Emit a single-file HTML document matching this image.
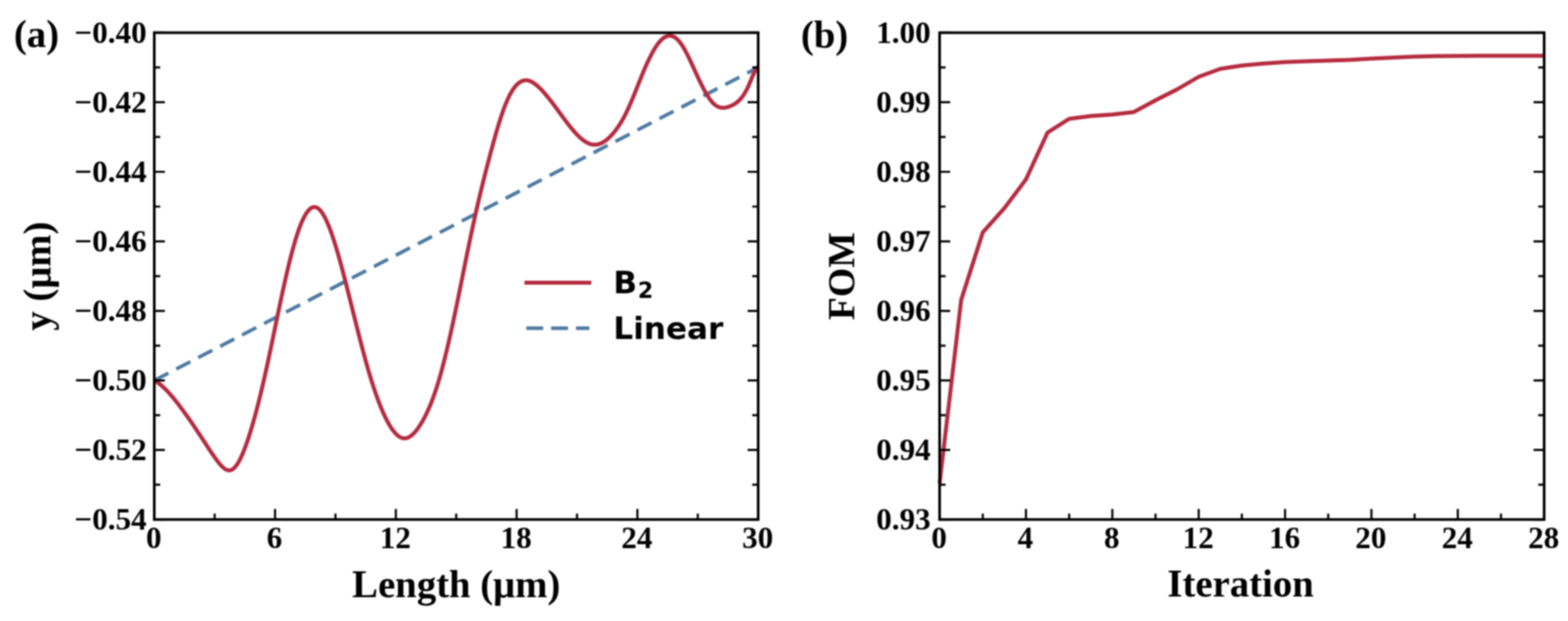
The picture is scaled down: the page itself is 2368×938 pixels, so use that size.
<!DOCTYPE html>
<html><head><meta charset="utf-8"><title>Figure</title>
<style>
html,body{margin:0;padding:0;background:#fff;}
svg{display:block;}
#fig{filter:blur(1px);width:2368px;height:938px;}
.t{font-family:"Liberation Serif", "Times New Roman", serif;font-weight:bold;font-size:47px;fill:#000;}
.l{font-family:"Liberation Serif", "Times New Roman", serif;font-weight:bold;font-size:58.5px;fill:#000;}
.g{font-family:"DejaVu Sans", "Liberation Sans", sans-serif;font-weight:bold;font-size:47px;fill:#000;}
</style></head><body>
<div id="fig"><svg width="2368" height="938" viewBox="0 0 2368 938">
<rect width="2368" height="938" fill="#fff"/>
<path d="M233.0 574.6 L1145.0 101.9" stroke="#4f7ba3" stroke-width="5.4" stroke-dasharray="24 13.36" fill="none"/>
<path d="M233.00 574.00 L233.65 574.45 L234.30 574.91 L234.96 575.37 L235.61 575.83 L236.26 576.31 L236.91 576.79 L237.56 577.27 L238.22 577.76 L238.87 578.26 L239.52 578.77 L240.17 579.28 L240.82 579.80 L241.47 580.33 L242.13 580.86 L242.78 581.41 L243.43 581.96 L244.08 582.52 L244.73 583.09 L245.39 583.67 L246.04 584.26 L246.69 584.86 L247.34 585.47 L247.99 586.09 L248.65 586.72 L249.30 587.36 L249.95 588.00 L250.60 588.66 L251.25 589.32 L251.90 590.00 L252.56 590.68 L253.21 591.37 L253.86 592.07 L254.51 592.77 L255.16 593.49 L255.82 594.21 L256.47 594.94 L257.12 595.67 L257.77 596.42 L258.42 597.17 L259.08 597.93 L259.73 598.69 L260.38 599.46 L261.03 600.24 L261.68 601.02 L262.34 601.82 L262.99 602.61 L263.64 603.41 L264.29 604.22 L264.94 605.03 L265.59 605.85 L266.25 606.68 L266.90 607.51 L267.55 608.34 L268.20 609.18 L268.85 610.02 L269.51 610.87 L270.16 611.72 L270.81 612.58 L271.46 613.44 L272.11 614.30 L272.77 615.17 L273.42 616.04 L274.07 616.92 L274.72 617.80 L275.37 618.68 L276.03 619.57 L276.68 620.46 L277.33 621.35 L277.98 622.25 L278.63 623.15 L279.28 624.05 L279.94 624.96 L280.59 625.87 L281.24 626.78 L281.89 627.70 L282.54 628.62 L283.20 629.54 L283.85 630.46 L284.50 631.39 L285.15 632.32 L285.80 633.26 L286.46 634.20 L287.11 635.14 L287.76 636.08 L288.41 637.03 L289.06 637.98 L289.71 638.93 L290.37 639.88 L291.02 640.84 L291.67 641.80 L292.32 642.77 L292.97 643.73 L293.63 644.70 L294.28 645.67 L294.93 646.64 L295.58 647.62 L296.23 648.60 L296.89 649.58 L297.54 650.56 L298.19 651.54 L298.84 652.53 L299.49 653.52 L300.15 654.51 L300.80 655.50 L301.45 656.50 L302.10 657.49 L302.75 658.49 L303.40 659.49 L304.06 660.48 L304.71 661.48 L305.36 662.48 L306.01 663.48 L306.66 664.48 L307.32 665.48 L307.97 666.48 L308.62 667.48 L309.27 668.47 L309.92 669.47 L310.58 670.46 L311.23 671.46 L311.88 672.45 L312.53 673.44 L313.18 674.43 L313.83 675.42 L314.49 676.40 L315.14 677.39 L315.79 678.37 L316.44 679.34 L317.09 680.32 L317.75 681.29 L318.40 682.25 L319.05 683.22 L319.70 684.18 L320.35 685.14 L321.01 686.09 L321.66 687.04 L322.31 687.98 L322.96 688.92 L323.61 689.85 L324.27 690.78 L324.92 691.71 L325.57 692.62 L326.22 693.53 L326.87 694.43 L327.52 695.32 L328.18 696.19 L328.83 697.06 L329.48 697.90 L330.13 698.73 L330.78 699.55 L331.44 700.34 L332.09 701.12 L332.74 701.87 L333.39 702.60 L334.04 703.31 L334.70 703.99 L335.35 704.65 L336.00 705.27 L336.65 705.87 L337.30 706.44 L337.95 706.98 L338.61 707.48 L339.26 707.95 L339.91 708.38 L340.56 708.77 L341.21 709.13 L341.87 709.45 L342.52 709.72 L343.17 709.96 L343.82 710.15 L344.47 710.29 L345.13 710.39 L345.78 710.44 L346.43 710.45 L347.08 710.40 L347.73 710.30 L348.39 710.15 L349.04 709.94 L349.69 709.68 L350.34 709.36 L350.99 708.99 L351.64 708.56 L352.30 708.07 L352.95 707.53 L353.60 706.93 L354.25 706.28 L354.90 705.58 L355.56 704.83 L356.21 704.02 L356.86 703.17 L357.51 702.27 L358.16 701.31 L358.82 700.31 L359.47 699.26 L360.12 698.17 L360.77 697.02 L361.42 695.84 L362.08 694.61 L362.73 693.33 L363.38 692.01 L364.03 690.65 L364.68 689.25 L365.33 687.81 L365.99 686.33 L366.64 684.80 L367.29 683.24 L367.94 681.64 L368.59 680.01 L369.25 678.34 L369.90 676.63 L370.55 674.88 L371.20 673.11 L371.85 671.30 L372.51 669.45 L373.16 667.58 L373.81 665.67 L374.46 663.73 L375.11 661.77 L375.76 659.77 L376.42 657.74 L377.07 655.69 L377.72 653.61 L378.37 651.50 L379.02 649.37 L379.68 647.21 L380.33 645.02 L380.98 642.80 L381.63 640.56 L382.28 638.29 L382.94 636.00 L383.59 633.68 L384.24 631.33 L384.89 628.96 L385.54 626.57 L386.20 624.15 L386.85 621.70 L387.50 619.23 L388.15 616.74 L388.80 614.22 L389.45 611.68 L390.11 609.12 L390.76 606.53 L391.41 603.92 L392.06 601.29 L392.71 598.63 L393.37 595.96 L394.02 593.26 L394.67 590.54 L395.32 587.79 L395.97 585.03 L396.63 582.24 L397.28 579.44 L397.93 576.61 L398.58 573.76 L399.23 570.90 L399.88 568.01 L400.54 565.10 L401.19 562.17 L401.84 559.23 L402.49 556.26 L403.14 553.28 L403.80 550.28 L404.45 547.26 L405.10 544.23 L405.75 541.18 L406.40 538.12 L407.06 535.05 L407.71 531.96 L408.36 528.87 L409.01 525.76 L409.66 522.65 L410.32 519.53 L410.97 516.40 L411.62 513.26 L412.27 510.12 L412.92 506.98 L413.57 503.83 L414.23 500.68 L414.88 497.53 L415.53 494.38 L416.18 491.23 L416.83 488.08 L417.49 484.93 L418.14 481.79 L418.79 478.65 L419.44 475.52 L420.09 472.39 L420.75 469.27 L421.40 466.16 L422.05 463.06 L422.70 459.97 L423.35 456.89 L424.01 453.82 L424.66 450.76 L425.31 447.72 L425.96 444.69 L426.61 441.68 L427.26 438.68 L427.92 435.71 L428.57 432.75 L429.22 429.81 L429.87 426.89 L430.52 423.99 L431.18 421.11 L431.83 418.26 L432.48 415.43 L433.13 412.62 L433.78 409.84 L434.44 407.08 L435.09 404.35 L435.74 401.64 L436.39 398.96 L437.04 396.31 L437.69 393.69 L438.35 391.10 L439.00 388.54 L439.65 386.01 L440.30 383.51 L440.95 381.04 L441.61 378.61 L442.26 376.21 L442.91 373.84 L443.56 371.51 L444.21 369.22 L444.87 366.97 L445.52 364.75 L446.17 362.57 L446.82 360.42 L447.47 358.32 L448.13 356.26 L448.78 354.24 L449.43 352.26 L450.08 350.33 L450.73 348.43 L451.38 346.58 L452.04 344.78 L452.69 343.02 L453.34 341.31 L453.99 339.65 L454.64 338.03 L455.30 336.46 L455.95 334.94 L456.60 333.47 L457.25 332.04 L457.90 330.67 L458.56 329.34 L459.21 328.06 L459.86 326.83 L460.51 325.66 L461.16 324.53 L461.81 323.45 L462.47 322.42 L463.12 321.44 L463.77 320.52 L464.42 319.64 L465.07 318.82 L465.73 318.04 L466.38 317.32 L467.03 316.65 L467.68 316.03 L468.33 315.47 L468.99 314.95 L469.64 314.49 L470.29 314.09 L470.94 313.73 L471.59 313.43 L472.25 313.18 L472.90 312.99 L473.55 312.85 L474.20 312.76 L474.85 312.73 L475.50 312.75 L476.16 312.83 L476.81 312.96 L477.46 313.15 L478.11 313.39 L478.76 313.69 L479.42 314.05 L480.07 314.46 L480.72 314.92 L481.37 315.45 L482.02 316.02 L482.68 316.66 L483.33 317.34 L483.98 318.08 L484.63 318.87 L485.28 319.70 L485.93 320.59 L486.59 321.53 L487.24 322.52 L487.89 323.56 L488.54 324.64 L489.19 325.77 L489.85 326.95 L490.50 328.17 L491.15 329.44 L491.80 330.75 L492.45 332.10 L493.11 333.49 L493.76 334.93 L494.41 336.40 L495.06 337.92 L495.71 339.48 L496.37 341.07 L497.02 342.70 L497.67 344.37 L498.32 346.08 L498.97 347.82 L499.62 349.59 L500.28 351.40 L500.93 353.24 L501.58 355.12 L502.23 357.03 L502.88 358.96 L503.54 360.93 L504.19 362.93 L504.84 364.96 L505.49 367.01 L506.14 369.09 L506.80 371.20 L507.45 373.34 L508.10 375.50 L508.75 377.68 L509.40 379.89 L510.06 382.12 L510.71 384.38 L511.36 386.66 L512.01 388.95 L512.66 391.27 L513.31 393.61 L513.97 395.97 L514.62 398.34 L515.27 400.74 L515.92 403.15 L516.57 405.58 L517.23 408.02 L517.88 410.48 L518.53 412.95 L519.18 415.44 L519.83 417.94 L520.49 420.45 L521.14 422.97 L521.79 425.51 L522.44 428.05 L523.09 430.61 L523.74 433.17 L524.40 435.74 L525.05 438.32 L525.70 440.91 L526.35 443.50 L527.00 446.10 L527.66 448.71 L528.31 451.32 L528.96 453.93 L529.61 456.54 L530.26 459.16 L530.92 461.78 L531.57 464.40 L532.22 467.02 L532.87 469.64 L533.52 472.26 L534.18 474.87 L534.83 477.49 L535.48 480.10 L536.13 482.71 L536.78 485.32 L537.43 487.92 L538.09 490.51 L538.74 493.11 L539.39 495.69 L540.04 498.27 L540.69 500.85 L541.35 503.41 L542.00 505.97 L542.65 508.52 L543.30 511.06 L543.95 513.60 L544.61 516.12 L545.26 518.63 L545.91 521.13 L546.56 523.62 L547.21 526.10 L547.86 528.56 L548.52 531.02 L549.17 533.46 L549.82 535.88 L550.47 538.29 L551.12 540.69 L551.78 543.06 L552.43 545.43 L553.08 547.77 L553.73 550.10 L554.38 552.41 L555.04 554.71 L555.69 556.98 L556.34 559.24 L556.99 561.47 L557.64 563.69 L558.30 565.88 L558.95 568.06 L559.60 570.21 L560.25 572.34 L560.90 574.45 L561.55 576.53 L562.21 578.60 L562.86 580.64 L563.51 582.66 L564.16 584.66 L564.81 586.64 L565.47 588.60 L566.12 590.53 L566.77 592.44 L567.42 594.33 L568.07 596.19 L568.73 598.03 L569.38 599.85 L570.03 601.65 L570.68 603.42 L571.33 605.17 L571.98 606.90 L572.64 608.61 L573.29 610.29 L573.94 611.94 L574.59 613.57 L575.24 615.18 L575.90 616.77 L576.55 618.33 L577.20 619.87 L577.85 621.38 L578.50 622.87 L579.16 624.33 L579.81 625.77 L580.46 627.19 L581.11 628.58 L581.76 629.94 L582.42 631.28 L583.07 632.60 L583.72 633.89 L584.37 635.15 L585.02 636.39 L585.67 637.60 L586.33 638.79 L586.98 639.95 L587.63 641.09 L588.28 642.20 L588.93 643.28 L589.59 644.33 L590.24 645.36 L590.89 646.36 L591.54 647.33 L592.19 648.27 L592.85 649.18 L593.50 650.07 L594.15 650.92 L594.80 651.75 L595.45 652.55 L596.11 653.31 L596.76 654.05 L597.41 654.76 L598.06 655.43 L598.71 656.08 L599.36 656.69 L600.02 657.27 L600.67 657.82 L601.32 658.34 L601.97 658.82 L602.62 659.28 L603.28 659.70 L603.93 660.09 L604.58 660.44 L605.23 660.76 L605.88 661.05 L606.54 661.30 L607.19 661.52 L607.84 661.70 L608.49 661.85 L609.14 661.96 L609.79 662.04 L610.45 662.08 L611.10 662.09 L611.75 662.06 L612.40 662.00 L613.05 661.90 L613.71 661.77 L614.36 661.61 L615.01 661.41 L615.66 661.18 L616.31 660.92 L616.97 660.62 L617.62 660.29 L618.27 659.94 L618.92 659.55 L619.57 659.13 L620.23 658.68 L620.88 658.20 L621.53 657.69 L622.18 657.15 L622.83 656.59 L623.48 655.99 L624.14 655.37 L624.79 654.72 L625.44 654.04 L626.09 653.34 L626.74 652.61 L627.40 651.85 L628.05 651.07 L628.70 650.27 L629.35 649.44 L630.00 648.58 L630.66 647.70 L631.31 646.80 L631.96 645.87 L632.61 644.92 L633.26 643.95 L633.91 642.96 L634.57 641.94 L635.22 640.91 L635.87 639.85 L636.52 638.77 L637.17 637.67 L637.83 636.55 L638.48 635.41 L639.13 634.25 L639.78 633.06 L640.43 631.86 L641.09 630.63 L641.74 629.37 L642.39 628.10 L643.04 626.80 L643.69 625.47 L644.35 624.12 L645.00 622.75 L645.65 621.35 L646.30 619.92 L646.95 618.47 L647.60 617.00 L648.26 615.49 L648.91 613.96 L649.56 612.40 L650.21 610.82 L650.86 609.21 L651.52 607.56 L652.17 605.89 L652.82 604.20 L653.47 602.47 L654.12 600.71 L654.78 598.92 L655.43 597.10 L656.08 595.25 L656.73 593.37 L657.38 591.46 L658.04 589.52 L658.69 587.55 L659.34 585.54 L659.99 583.50 L660.64 581.43 L661.29 579.32 L661.95 577.18 L662.60 575.00 L663.25 572.80 L663.90 570.55 L664.55 568.28 L665.21 565.98 L665.86 563.64 L666.51 561.27 L667.16 558.87 L667.81 556.44 L668.47 553.98 L669.12 551.49 L669.77 548.98 L670.42 546.43 L671.07 543.86 L671.72 541.26 L672.38 538.63 L673.03 535.98 L673.68 533.30 L674.33 530.60 L674.98 527.87 L675.64 525.12 L676.29 522.34 L676.94 519.55 L677.59 516.73 L678.24 513.88 L678.90 511.02 L679.55 508.13 L680.20 505.23 L680.85 502.30 L681.50 499.35 L682.16 496.39 L682.81 493.41 L683.46 490.40 L684.11 487.39 L684.76 484.35 L685.41 481.30 L686.07 478.23 L686.72 475.14 L687.37 472.05 L688.02 468.93 L688.67 465.80 L689.33 462.66 L689.98 459.51 L690.63 456.35 L691.28 453.17 L691.93 449.99 L692.59 446.79 L693.24 443.59 L693.89 440.38 L694.54 437.16 L695.19 433.94 L695.84 430.72 L696.50 427.49 L697.15 424.25 L697.80 421.02 L698.45 417.78 L699.10 414.54 L699.76 411.30 L700.41 408.06 L701.06 404.83 L701.71 401.60 L702.36 398.37 L703.02 395.14 L703.67 391.92 L704.32 388.71 L704.97 385.50 L705.62 382.30 L706.28 379.11 L706.93 375.93 L707.58 372.76 L708.23 369.60 L708.88 366.45 L709.53 363.31 L710.19 360.19 L710.84 357.08 L711.49 353.99 L712.14 350.91 L712.79 347.85 L713.45 344.81 L714.10 341.78 L714.75 338.78 L715.40 335.79 L716.05 332.82 L716.71 329.87 L717.36 326.94 L718.01 324.03 L718.66 321.13 L719.31 318.25 L719.96 315.39 L720.62 312.55 L721.27 309.72 L721.92 306.91 L722.57 304.11 L723.22 301.33 L723.88 298.57 L724.53 295.82 L725.18 293.08 L725.83 290.36 L726.48 287.66 L727.14 284.97 L727.79 282.29 L728.44 279.62 L729.09 276.98 L729.74 274.34 L730.40 271.71 L731.05 269.10 L731.70 266.50 L732.35 263.92 L733.00 261.34 L733.65 258.78 L734.31 256.23 L734.96 253.69 L735.61 251.16 L736.26 248.64 L736.91 246.13 L737.57 243.63 L738.22 241.15 L738.87 238.67 L739.52 236.20 L740.17 233.74 L740.83 231.28 L741.48 228.84 L742.13 226.41 L742.78 223.99 L743.43 221.59 L744.09 219.19 L744.74 216.81 L745.39 214.44 L746.04 212.09 L746.69 209.76 L747.34 207.44 L748.00 205.14 L748.65 202.86 L749.30 200.60 L749.95 198.36 L750.60 196.13 L751.26 193.93 L751.91 191.76 L752.56 189.60 L753.21 187.47 L753.86 185.36 L754.52 183.28 L755.17 181.23 L755.82 179.20 L756.47 177.20 L757.12 175.23 L757.77 173.29 L758.43 171.38 L759.08 169.49 L759.73 167.64 L760.38 165.83 L761.03 164.04 L761.69 162.29 L762.34 160.58 L762.99 158.90 L763.64 157.25 L764.29 155.65 L764.95 154.08 L765.60 152.55 L766.25 151.06 L766.90 149.61 L767.55 148.20 L768.21 146.82 L768.86 145.49 L769.51 144.20 L770.16 142.94 L770.81 141.72 L771.46 140.54 L772.12 139.40 L772.77 138.30 L773.42 137.23 L774.07 136.20 L774.72 135.21 L775.38 134.25 L776.03 133.33 L776.68 132.45 L777.33 131.60 L777.98 130.79 L778.64 130.01 L779.29 129.26 L779.94 128.56 L780.59 127.88 L781.24 127.24 L781.89 126.64 L782.55 126.07 L783.20 125.53 L783.85 125.02 L784.50 124.55 L785.15 124.11 L785.81 123.71 L786.46 123.33 L787.11 122.99 L787.76 122.68 L788.41 122.40 L789.07 122.15 L789.72 121.94 L790.37 121.75 L791.02 121.59 L791.67 121.47 L792.33 121.37 L792.98 121.31 L793.63 121.27 L794.28 121.26 L794.93 121.28 L795.58 121.33 L796.24 121.40 L796.89 121.51 L797.54 121.63 L798.19 121.79 L798.84 121.96 L799.50 122.16 L800.15 122.39 L800.80 122.64 L801.45 122.91 L802.10 123.21 L802.76 123.52 L803.41 123.86 L804.06 124.22 L804.71 124.60 L805.36 125.00 L806.02 125.42 L806.67 125.86 L807.32 126.31 L807.97 126.79 L808.62 127.28 L809.27 127.79 L809.93 128.31 L810.58 128.85 L811.23 129.41 L811.88 129.98 L812.53 130.56 L813.19 131.16 L813.84 131.77 L814.49 132.40 L815.14 133.03 L815.79 133.68 L816.45 134.34 L817.10 135.01 L817.75 135.69 L818.40 136.38 L819.05 137.08 L819.70 137.79 L820.36 138.51 L821.01 139.23 L821.66 139.97 L822.31 140.71 L822.96 141.46 L823.62 142.22 L824.27 142.99 L824.92 143.76 L825.57 144.54 L826.22 145.33 L826.88 146.12 L827.53 146.92 L828.18 147.73 L828.83 148.54 L829.48 149.36 L830.14 150.19 L830.79 151.01 L831.44 151.85 L832.09 152.69 L832.74 153.53 L833.39 154.38 L834.05 155.24 L834.70 156.09 L835.35 156.96 L836.00 157.82 L836.65 158.69 L837.31 159.56 L837.96 160.43 L838.61 161.31 L839.26 162.19 L839.91 163.07 L840.57 163.96 L841.22 164.84 L841.87 165.73 L842.52 166.62 L843.17 167.51 L843.82 168.40 L844.48 169.29 L845.13 170.19 L845.78 171.08 L846.43 171.97 L847.08 172.86 L847.74 173.76 L848.39 174.65 L849.04 175.54 L849.69 176.42 L850.34 177.31 L851.00 178.20 L851.65 179.08 L852.30 179.96 L852.95 180.83 L853.60 181.71 L854.26 182.58 L854.91 183.44 L855.56 184.31 L856.21 185.17 L856.86 186.02 L857.51 186.87 L858.17 187.71 L858.82 188.55 L859.47 189.38 L860.12 190.21 L860.77 191.03 L861.43 191.85 L862.08 192.65 L862.73 193.46 L863.38 194.25 L864.03 195.03 L864.69 195.81 L865.34 196.58 L865.99 197.34 L866.64 198.10 L867.29 198.84 L867.94 199.58 L868.60 200.30 L869.25 201.02 L869.90 201.72 L870.55 202.42 L871.20 203.10 L871.86 203.78 L872.51 204.44 L873.16 205.09 L873.81 205.73 L874.46 206.35 L875.12 206.97 L875.77 207.57 L876.42 208.16 L877.07 208.74 L877.72 209.30 L878.38 209.85 L879.03 210.39 L879.68 210.91 L880.33 211.41 L880.98 211.91 L881.63 212.38 L882.29 212.84 L882.94 213.29 L883.59 213.72 L884.24 214.13 L884.89 214.53 L885.55 214.91 L886.20 215.28 L886.85 215.62 L887.50 215.95 L888.15 216.26 L888.81 216.56 L889.46 216.83 L890.11 217.09 L890.76 217.33 L891.41 217.55 L892.07 217.75 L892.72 217.92 L893.37 218.08 L894.02 218.22 L894.67 218.34 L895.32 218.44 L895.98 218.52 L896.63 218.57 L897.28 218.61 L897.93 218.62 L898.58 218.61 L899.24 218.58 L899.89 218.53 L900.54 218.46 L901.19 218.37 L901.84 218.26 L902.50 218.13 L903.15 217.98 L903.80 217.81 L904.45 217.62 L905.10 217.42 L905.75 217.19 L906.41 216.94 L907.06 216.68 L907.71 216.39 L908.36 216.09 L909.01 215.77 L909.67 215.43 L910.32 215.07 L910.97 214.69 L911.62 214.30 L912.27 213.89 L912.93 213.46 L913.58 213.01 L914.23 212.55 L914.88 212.07 L915.53 211.57 L916.19 211.06 L916.84 210.53 L917.49 209.98 L918.14 209.41 L918.79 208.83 L919.44 208.24 L920.10 207.63 L920.75 207.00 L921.40 206.36 L922.05 205.70 L922.70 205.02 L923.36 204.33 L924.01 203.63 L924.66 202.91 L925.31 202.17 L925.96 201.42 L926.62 200.65 L927.27 199.87 L927.92 199.07 L928.57 198.25 L929.22 197.42 L929.87 196.57 L930.53 195.70 L931.18 194.81 L931.83 193.91 L932.48 192.99 L933.13 192.05 L933.79 191.10 L934.44 190.12 L935.09 189.13 L935.74 188.12 L936.39 187.09 L937.05 186.05 L937.70 184.98 L938.35 183.90 L939.00 182.79 L939.65 181.67 L940.31 180.53 L940.96 179.37 L941.61 178.19 L942.26 176.99 L942.91 175.77 L943.56 174.53 L944.22 173.27 L944.87 171.99 L945.52 170.69 L946.17 169.37 L946.82 168.03 L947.48 166.66 L948.13 165.28 L948.78 163.87 L949.43 162.45 L950.08 161.01 L950.74 159.54 L951.39 158.06 L952.04 156.57 L952.69 155.06 L953.34 153.53 L953.99 151.99 L954.65 150.44 L955.30 148.87 L955.95 147.30 L956.60 145.71 L957.25 144.12 L957.91 142.52 L958.56 140.91 L959.21 139.29 L959.86 137.67 L960.51 136.04 L961.17 134.41 L961.82 132.78 L962.47 131.14 L963.12 129.51 L963.77 127.87 L964.43 126.23 L965.08 124.60 L965.73 122.97 L966.38 121.34 L967.03 119.72 L967.68 118.10 L968.34 116.49 L968.99 114.89 L969.64 113.29 L970.29 111.70 L970.94 110.13 L971.60 108.56 L972.25 107.00 L972.90 105.46 L973.55 103.93 L974.20 102.42 L974.86 100.92 L975.51 99.44 L976.16 97.97 L976.81 96.52 L977.46 95.09 L978.12 93.67 L978.77 92.27 L979.42 90.89 L980.07 89.53 L980.72 88.19 L981.37 86.86 L982.03 85.56 L982.68 84.28 L983.33 83.01 L983.98 81.77 L984.63 80.55 L985.29 79.35 L985.94 78.18 L986.59 77.02 L987.24 75.89 L987.89 74.79 L988.55 73.71 L989.20 72.65 L989.85 71.62 L990.50 70.61 L991.15 69.63 L991.80 68.67 L992.46 67.75 L993.11 66.84 L993.76 65.97 L994.41 65.12 L995.06 64.31 L995.72 63.52 L996.37 62.76 L997.02 62.03 L997.67 61.33 L998.32 60.66 L998.98 60.02 L999.63 59.41 L1000.28 58.83 L1000.93 58.29 L1001.58 57.78 L1002.24 57.30 L1002.89 56.85 L1003.54 56.44 L1004.19 56.05 L1004.84 55.70 L1005.49 55.39 L1006.15 55.10 L1006.80 54.85 L1007.45 54.63 L1008.10 54.45 L1008.75 54.30 L1009.41 54.18 L1010.06 54.10 L1010.71 54.05 L1011.36 54.03 L1012.01 54.05 L1012.67 54.10 L1013.32 54.18 L1013.97 54.30 L1014.62 54.46 L1015.27 54.65 L1015.92 54.87 L1016.58 55.13 L1017.23 55.42 L1017.88 55.75 L1018.53 56.11 L1019.18 56.51 L1019.84 56.95 L1020.49 57.41 L1021.14 57.92 L1021.79 58.46 L1022.44 59.04 L1023.10 59.65 L1023.75 60.30 L1024.40 60.98 L1025.05 61.70 L1025.70 62.46 L1026.36 63.25 L1027.01 64.08 L1027.66 64.95 L1028.31 65.84 L1028.96 66.77 L1029.61 67.74 L1030.27 68.73 L1030.92 69.75 L1031.57 70.81 L1032.22 71.89 L1032.87 72.99 L1033.53 74.12 L1034.18 75.28 L1034.83 76.46 L1035.48 77.66 L1036.13 78.88 L1036.79 80.13 L1037.44 81.39 L1038.09 82.67 L1038.74 83.97 L1039.39 85.28 L1040.05 86.61 L1040.70 87.96 L1041.35 89.31 L1042.00 90.68 L1042.65 92.06 L1043.30 93.45 L1043.96 94.85 L1044.61 96.25 L1045.26 97.66 L1045.91 99.08 L1046.56 100.50 L1047.22 101.93 L1047.87 103.36 L1048.52 104.79 L1049.17 106.22 L1049.82 107.65 L1050.48 109.07 L1051.13 110.50 L1051.78 111.92 L1052.43 113.34 L1053.08 114.75 L1053.73 116.15 L1054.39 117.55 L1055.04 118.94 L1055.69 120.32 L1056.34 121.69 L1056.99 123.05 L1057.65 124.40 L1058.30 125.74 L1058.95 127.06 L1059.60 128.38 L1060.25 129.67 L1060.91 130.96 L1061.56 132.23 L1062.21 133.48 L1062.86 134.71 L1063.51 135.93 L1064.17 137.13 L1064.82 138.31 L1065.47 139.47 L1066.12 140.61 L1066.77 141.72 L1067.42 142.82 L1068.08 143.89 L1068.73 144.94 L1069.38 145.96 L1070.03 146.96 L1070.68 147.93 L1071.34 148.88 L1071.99 149.80 L1072.64 150.68 L1073.29 151.54 L1073.94 152.38 L1074.60 153.17 L1075.25 153.94 L1075.90 154.68 L1076.55 155.38 L1077.20 156.05 L1077.85 156.69 L1078.51 157.29 L1079.16 157.85 L1079.81 158.38 L1080.46 158.88 L1081.11 159.35 L1081.77 159.78 L1082.42 160.18 L1083.07 160.55 L1083.72 160.89 L1084.37 161.20 L1085.03 161.48 L1085.68 161.73 L1086.33 161.96 L1086.98 162.16 L1087.63 162.33 L1088.29 162.47 L1088.94 162.59 L1089.59 162.69 L1090.24 162.76 L1090.89 162.81 L1091.54 162.84 L1092.20 162.84 L1092.85 162.82 L1093.50 162.78 L1094.15 162.73 L1094.80 162.65 L1095.46 162.55 L1096.11 162.44 L1096.76 162.30 L1097.41 162.15 L1098.06 161.99 L1098.72 161.81 L1099.37 161.61 L1100.02 161.40 L1100.67 161.18 L1101.32 160.94 L1101.97 160.69 L1102.63 160.43 L1103.28 160.16 L1103.93 159.88 L1104.58 159.58 L1105.23 159.28 L1105.89 158.97 L1106.54 158.64 L1107.19 158.30 L1107.84 157.94 L1108.49 157.57 L1109.15 157.18 L1109.80 156.78 L1110.45 156.36 L1111.10 155.92 L1111.75 155.46 L1112.41 154.97 L1113.06 154.47 L1113.71 153.94 L1114.36 153.39 L1115.01 152.81 L1115.66 152.21 L1116.32 151.58 L1116.97 150.93 L1117.62 150.24 L1118.27 149.53 L1118.92 148.79 L1119.58 148.01 L1120.23 147.20 L1120.88 146.36 L1121.53 145.48 L1122.18 144.57 L1122.84 143.62 L1123.49 142.64 L1124.14 141.62 L1124.79 140.56 L1125.44 139.45 L1126.10 138.31 L1126.75 137.13 L1127.40 135.90 L1128.05 134.63 L1128.70 133.31 L1129.35 131.95 L1130.01 130.54 L1130.66 129.09 L1131.31 127.60 L1131.96 126.07 L1132.61 124.52 L1133.27 122.96 L1133.92 121.38 L1134.57 119.81 L1135.22 118.24 L1135.87 116.68 L1136.53 115.15 L1137.18 113.65 L1137.83 112.19 L1138.48 110.77 L1139.13 109.40 L1139.78 108.10 L1140.44 106.87 L1141.09 105.71 L1141.74 104.63 L1142.39 103.65 L1143.04 102.77 L1143.70 101.99 L1144.35 101.34 L1145.00 100.80" stroke="#b52b3f" stroke-width="6.0" fill="none" stroke-linejoin="round"/>
<rect x="233.0" y="49.4" width="912.0" height="735.3000000000001" fill="none" stroke="#000" stroke-width="4.0"/>
<path d="M233.00 784.70v-16.0M415.40 784.70v-16.0M597.80 784.70v-16.0M780.20 784.70v-16.0M962.60 784.70v-16.0M1145.00 784.70v-16.0M324.20 784.70v-9.0M506.60 784.70v-9.0M689.00 784.70v-9.0M871.40 784.70v-9.0M1053.80 784.70v-9.0M233.00 49.40h16.0M1145.00 49.40h-16.0M233.00 154.44h16.0M1145.00 154.44h-16.0M233.00 259.49h16.0M1145.00 259.49h-16.0M233.00 364.53h16.0M1145.00 364.53h-16.0M233.00 469.57h16.0M1145.00 469.57h-16.0M233.00 574.61h16.0M1145.00 574.61h-16.0M233.00 679.66h16.0M1145.00 679.66h-16.0M233.00 784.70h16.0M1145.00 784.70h-16.0M233.00 101.92h9.0M1145.00 101.92h-9.0M233.00 206.96h9.0M1145.00 206.96h-9.0M233.00 312.01h9.0M1145.00 312.01h-9.0M233.00 417.05h9.0M1145.00 417.05h-9.0M233.00 522.09h9.0M1145.00 522.09h-9.0M233.00 627.14h9.0M1145.00 627.14h-9.0M233.00 732.18h9.0M1145.00 732.18h-9.0" stroke="#000" stroke-width="3.2" fill="none"/>
<text x="221.5" y="65.1" text-anchor="end" class="t">−0.40</text>
<text x="221.5" y="170.1" text-anchor="end" class="t">−0.42</text>
<text x="221.5" y="275.2" text-anchor="end" class="t">−0.44</text>
<text x="221.5" y="380.2" text-anchor="end" class="t">−0.46</text>
<text x="221.5" y="485.3" text-anchor="end" class="t">−0.48</text>
<text x="221.5" y="590.3" text-anchor="end" class="t">−0.50</text>
<text x="221.5" y="695.4" text-anchor="end" class="t">−0.52</text>
<text x="221.5" y="800.4" text-anchor="end" class="t">−0.54</text>
<text x="232.2" y="828.3" text-anchor="middle" class="t">0</text>
<text x="414.6" y="828.3" text-anchor="middle" class="t">6</text>
<text x="597.0" y="828.3" text-anchor="middle" class="t">12</text>
<text x="779.4" y="828.3" text-anchor="middle" class="t">18</text>
<text x="961.8" y="828.3" text-anchor="middle" class="t">24</text>
<text x="1144.2" y="828.3" text-anchor="middle" class="t">30</text>
<text x="689.0" y="902" text-anchor="middle" class="l">Length (μm)</text>
<text transform="translate(75.5 417.1) rotate(-90)" text-anchor="middle" class="l">y (μm)</text>
<text x="21" y="70.8" class="l">(a)</text>
<path d="M792 427H893" stroke="#b52b3f" stroke-width="6.0"/>
<path d="M794.8 495.8H890" stroke="#4f7ba3" stroke-width="5.4" stroke-dasharray="25.5 12"/>
<text x="926.2" y="442.8" class="g">B<tspan style="font-size:33.5px" dx="1.1" dy="7.6">2</tspan></text>
<text x="926.2" y="512" class="g">Linear</text>
<path d="M1419.0 730.0 L1451.6 453.0 L1484.2 351.0 L1516.8 314.5 L1549.4 271.0 L1582.0 200.3 L1614.6 179.5 L1647.2 175.2 L1679.9 173.0 L1712.5 169.2 L1745.1 151.5 L1777.7 135.0 L1810.3 116.0 L1842.9 104.0 L1875.5 99.0 L1908.1 95.9 L1940.7 93.8 L1973.3 92.5 L2005.9 91.6 L2038.5 90.4 L2071.1 88.6 L2103.8 86.9 L2136.4 85.6 L2169.0 84.8 L2201.6 84.4 L2234.2 84.2 L2266.8 84.2 L2299.4 84.2 L2332.0 84.2" stroke="#b52b3f" stroke-width="6.0" fill="none" stroke-linejoin="round"/>
<rect x="1419.0" y="49.4" width="913.0" height="735.3000000000001" fill="none" stroke="#000" stroke-width="4.0"/>
<path d="M1419.00 784.70v-16.0M1549.43 784.70v-16.0M1679.86 784.70v-16.0M1810.29 784.70v-16.0M1940.71 784.70v-16.0M2071.14 784.70v-16.0M2201.57 784.70v-16.0M2332.00 784.70v-16.0M1484.21 784.70v-9.0M1614.64 784.70v-9.0M1745.07 784.70v-9.0M1875.50 784.70v-9.0M2005.93 784.70v-9.0M2136.36 784.70v-9.0M2266.79 784.70v-9.0M1419.00 784.70h16.0M2332.00 784.70h-16.0M1419.00 679.66h16.0M2332.00 679.66h-16.0M1419.00 574.61h16.0M2332.00 574.61h-16.0M1419.00 469.57h16.0M2332.00 469.57h-16.0M1419.00 364.53h16.0M2332.00 364.53h-16.0M1419.00 259.49h16.0M2332.00 259.49h-16.0M1419.00 154.44h16.0M2332.00 154.44h-16.0M1419.00 49.40h16.0M2332.00 49.40h-16.0M1419.00 732.18h9.0M2332.00 732.18h-9.0M1419.00 627.14h9.0M2332.00 627.14h-9.0M1419.00 522.09h9.0M2332.00 522.09h-9.0M1419.00 417.05h9.0M2332.00 417.05h-9.0M1419.00 312.01h9.0M2332.00 312.01h-9.0M1419.00 206.96h9.0M2332.00 206.96h-9.0M1419.00 101.92h9.0M2332.00 101.92h-9.0" stroke="#000" stroke-width="3.2" fill="none"/>
<text x="1405.5" y="800.4" text-anchor="end" class="t">0.93</text>
<text x="1405.5" y="695.4" text-anchor="end" class="t">0.94</text>
<text x="1405.5" y="590.3" text-anchor="end" class="t">0.95</text>
<text x="1405.5" y="485.3" text-anchor="end" class="t">0.96</text>
<text x="1405.5" y="380.2" text-anchor="end" class="t">0.97</text>
<text x="1405.5" y="275.2" text-anchor="end" class="t">0.98</text>
<text x="1405.5" y="170.1" text-anchor="end" class="t">0.99</text>
<text x="1405.5" y="65.1" text-anchor="end" class="t">1.00</text>
<text x="1418.2" y="828.3" text-anchor="middle" class="t">0</text>
<text x="1548.6" y="828.3" text-anchor="middle" class="t">4</text>
<text x="1679.1" y="828.3" text-anchor="middle" class="t">8</text>
<text x="1809.5" y="828.3" text-anchor="middle" class="t">12</text>
<text x="1939.9" y="828.3" text-anchor="middle" class="t">16</text>
<text x="2070.3" y="828.3" text-anchor="middle" class="t">20</text>
<text x="2200.8" y="828.3" text-anchor="middle" class="t">24</text>
<text x="2331.2" y="828.3" text-anchor="middle" class="t">28</text>
<text x="1873.5" y="900.5" text-anchor="middle" class="l">Iteration</text>
<text transform="translate(1290 417.1) rotate(-90)" text-anchor="middle" class="l" style="font-size:57px">FOM</text>
<text x="1209.5" y="72.2" class="l">(b)</text>
</svg></div>
</body></html>
